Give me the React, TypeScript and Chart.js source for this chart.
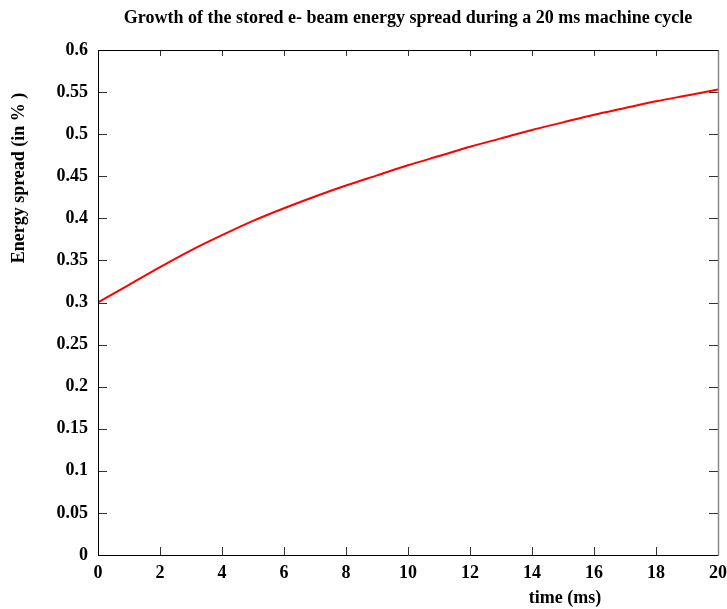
import React, { useEffect, useRef } from "react";
import { Chart, registerables } from "chart.js";

Chart.register(...registerables);

const timeMs: number[] = [0, 1, 2, 3, 4, 5, 6, 7, 8, 9, 10, 11, 12, 13, 14, 15, 16, 17, 18, 19, 20];
const energySpread: number[] = [
  0.300, 0.321, 0.342, 0.362, 0.380, 0.397, 0.412, 0.426, 0.439, 0.451,
  0.463, 0.474, 0.485, 0.495, 0.505, 0.514, 0.523, 0.531, 0.539, 0.546, 0.553,
];
const xTicks: number[] = [0, 2, 4, 6, 8, 10, 12, 14, 16, 18, 20];
const yTicks: number[] = [0, 0.05, 0.1, 0.15, 0.2, 0.25, 0.3, 0.35, 0.4, 0.45, 0.5, 0.55, 0.6];

const titleText = "Growth of the stored e- beam energy spread during a 20 ms machine cycle";
const yTitleText = "Energy spread (in % )";
const xTitleText = "time (ms)";

const FONT = "'Liberation Serif', 'Times New Roman', serif";

const framePlugin = {
  id: "framePlugin",
  afterDraw(chart: any) {
    const { ctx, chartArea: a, scales } = chart;
    ctx.save();
    // ticks
    ctx.lineWidth = 1;
    ctx.strokeStyle = "#333";
    for (const v of xTicks) {
      const px = Math.round(scales.x.getPixelForValue(v)) + 0.5;
      ctx.beginPath();
      ctx.moveTo(px, a.bottom);
      ctx.lineTo(px, a.bottom - 8);
      ctx.moveTo(px, a.top);
      ctx.lineTo(px, a.top + 6);
      ctx.stroke();
    }
    for (const v of yTicks) {
      const py = Math.round(scales.y.getPixelForValue(v)) + 0.5;
      ctx.beginPath();
      ctx.moveTo(a.left, py);
      ctx.lineTo(a.left + 9, py);
      ctx.moveTo(a.right, py);
      ctx.lineTo(a.right - 9, py);
      ctx.stroke();
    }
    // frame
    const l = Math.round(a.left) + 0.5;
    const r = Math.round(a.right) + 0.5;
    const t = Math.round(a.top) + 0.5;
    const b = Math.round(a.bottom) + 0.5;
    ctx.strokeStyle = "#000";
    ctx.beginPath();
    ctx.moveTo(r, t);
    ctx.lineTo(l, t);
    ctx.lineTo(l, b);
    ctx.lineTo(r, b);
    ctx.stroke();
    ctx.strokeStyle = "#888";
    ctx.lineWidth = 1.5;
    ctx.beginPath();
    ctx.moveTo(r, t);
    ctx.lineTo(r, b);
    ctx.stroke();
    // texts
    ctx.fillStyle = "#000";
    ctx.textAlign = "center";
    ctx.textBaseline = "middle";
    ctx.font = `bold 18px ${FONT}`;
    ctx.fillText(titleText, (a.left + a.right) / 2, 18);
    ctx.font = `bold 18px ${FONT}`;
    ctx.fillText(xTitleText, 565, 598);
    ctx.translate(19, 178);
    ctx.rotate(-Math.PI / 2);
    ctx.fillText(yTitleText, 0, 0);
    ctx.restore();
  },
};

export default function App() {
  const canvasRef = useRef<HTMLCanvasElement | null>(null);

  useEffect(() => {
    if (!canvasRef.current) return;
    const chart = new Chart(canvasRef.current, {
      type: "line",
      data: {
        labels: timeMs,
        datasets: [
          {
            data: timeMs.map((t, i) => ({ x: t, y: energySpread[i] })),
            borderColor: "#ff0000",
            borderWidth: 2,
            pointRadius: 0,
            cubicInterpolationMode: "monotone",
            fill: false,
          },
        ],
      },
      options: {
        animation: false,
        responsive: false,
        maintainAspectRatio: false,
        layout: { padding: { top: 50, right: 9, left: 0, bottom: 0 } },
        plugins: {
          legend: { display: false },
          title: { display: false },
          tooltip: { enabled: false },
        },
        scales: {
          x: {
            type: "linear",
            min: 0,
            max: 20,
            afterBuildTicks: (s: any) => {
              s.ticks = xTicks.map((v) => ({ value: v }));
            },
            afterFit: (s: any) => {
              s.height = 54;
              s.paddingLeft = 0;
              s.paddingRight = 0;
            },
            grid: { display: false, drawTicks: false },
            border: { display: false },
            ticks: {
              padding: 8,
              maxRotation: 0,
              autoSkip: false,
              color: "#000",
              font: { family: FONT, size: 18, weight: "bold" },
              callback: (v: any) => String(Number(Number(v).toFixed(2))),
            },
          },
          y: {
            type: "linear",
            min: 0,
            max: 0.6,
            afterBuildTicks: (s: any) => {
              s.ticks = yTicks.map((v) => ({ value: v }));
            },
            afterFit: (s: any) => {
              s.width = 98;
              s.paddingTop = 0;
              s.paddingBottom = 0;
            },
            grid: { display: false, drawTicks: false },
            border: { display: false },
            ticks: {
              padding: 10,
              autoSkip: false,
              color: "#000",
              font: { family: FONT, size: 18, weight: "bold" },
              callback: (v: any) => String(Number(Number(v).toFixed(2))),
            },
          },
        },
      },
      plugins: [framePlugin],
    } as any);
    return () => chart.destroy();
  }, []);

  return (
    <div style={{ position: "fixed", left: 0, top: 0, width: 727, height: 609, background: "#fff" }}>
      <canvas ref={canvasRef} width={727} height={609} style={{ width: 727, height: 609 }} />
    </div>
  );
}
